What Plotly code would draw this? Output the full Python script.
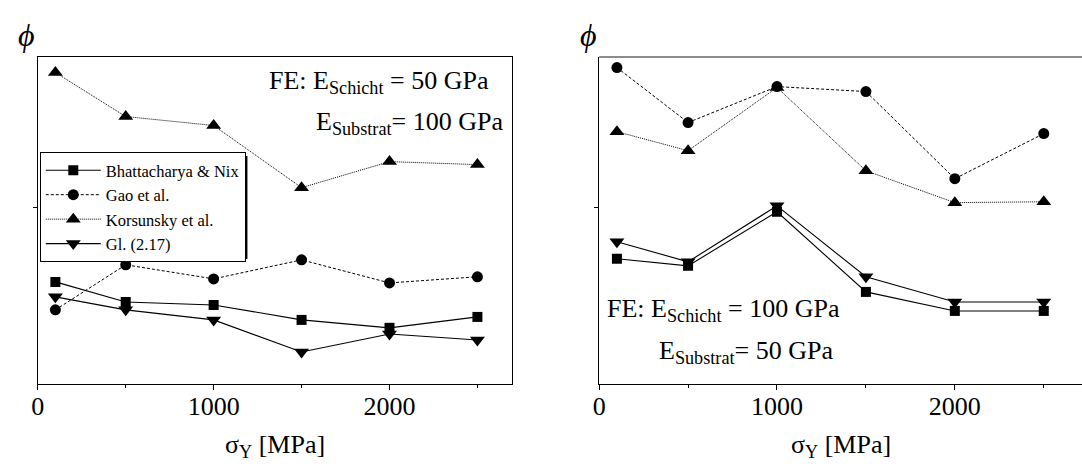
import plotly.graph_objects as go

# Fließspannung sigma_Y [MPa]
sigma_y = [100, 500, 1000, 1500, 2000, 2500]

# Links: E_Schicht = 50 GPa, E_Substrat = 100 GPa
bn_left = [0.580, 0.466, 0.449, 0.364, 0.319, 0.381]
gao_left = [0.421, 0.677, 0.597, 0.705, 0.574, 0.609]
kors_left = [1.769, 1.519, 1.468, 1.115, 1.263, 1.246]
gl_left = [0.495, 0.421, 0.364, 0.182, 0.284, 0.250]

# Rechts: E_Schicht = 100 GPa, E_Substrat = 50 GPa
bn_right = [0.711, 0.671, 0.978, 0.523, 0.415, 0.415]
gao_right = [1.797, 1.485, 1.689, 1.661, 1.166, 1.422]
kors_right = [1.433, 1.325, 1.684, 1.211, 1.030, 1.035]
gl_right = [0.808, 0.694, 1.012, 0.609, 0.466, 0.466]

series_names = ["Bhattacharya & Nix", "Gao et al.", "Korsunsky et al.", "Gl. (2.17)"]
x_ticks = [0, 1000, 2000]
y_ticks = [1]

W, H = 1082, 468
SERIF = "'Liberation Serif', 'DejaVu Serif', 'Times New Roman', serif"


def px(x):
    return x / W


def py(y):
    return 1 - y / H


styles = [
    dict(symbol="square", size=10, dash="solid", width=1.1),
    dict(symbol="circle", size=11, dash="3px,2px", width=1.0),
    dict(symbol="triangle-up", size=13, dash="1px,1px", width=1.0),
    dict(symbol="triangle-down", size=13, dash="solid", width=1.1),
]

fig = go.Figure()

left = [bn_left, gao_left, kors_left, gl_left]
right = [bn_right, gao_right, kors_right, gl_right]

for name, vals, st in zip(series_names, left, styles):
    fig.add_trace(go.Scatter(
        x=sigma_y, y=vals, name=name, mode="lines+markers",
        line=dict(color="black", width=st["width"], dash=st["dash"]),
        marker=dict(symbol=st["symbol"], size=st["size"], color="black",
                    line=dict(width=0)),
        xaxis="x", yaxis="y", legendgroup=name, showlegend=True,
    ))

for name, vals, st in zip(series_names, right, styles):
    fig.add_trace(go.Scatter(
        x=sigma_y, y=vals, name=name, mode="lines+markers",
        line=dict(color="black", width=st["width"], dash=st["dash"]),
        marker=dict(symbol=st["symbol"], size=st["size"], color="black",
                    line=dict(width=0)),
        xaxis="x2", yaxis="y2", legendgroup=name, showlegend=False,
    ))

y_dom = [py(384), py(56.5)]

common_x = dict(
    tickmode="array", tickvals=x_ticks, ticktext=[str(v) for v in x_ticks],
    ticks="outside", ticklen=5, tickwidth=1, tickcolor="black",
    ticklabelstandoff=-6,
    showline=True, linecolor="black", linewidth=1.3,
    showgrid=False, zeroline=False,
    tickfont=dict(family=SERIF, size=26, color="black"),
    minor=dict(tickmode="array", tickvals=[500, 1500, 2500], ticks="outside",
               ticklen=3, tickwidth=1, tickcolor="black", showgrid=False),
)
common_y = dict(
    range=[0, 1.86], tickmode="array", tickvals=y_ticks,
    ticks="outside", ticklen=4, tickwidth=1, tickcolor="black",
    showticklabels=False, showline=True, linecolor="black", linewidth=1.3,
    showgrid=False, zeroline=False,
)

fig.update_layout(
    width=W, height=H,
    margin=dict(l=0, r=0, t=0, b=0),
    paper_bgcolor="white", plot_bgcolor="white",
    font=dict(family=SERIF, color="black"),
    xaxis=dict(domain=[px(31), px(508)], range=[0, 2695], mirror=True,
               anchor="y", **common_x),
    yaxis=dict(domain=y_dom, mirror=True, anchor="x", **common_y),
    xaxis2=dict(domain=[px(596), 1], range=[0, 2715], mirror=False,
                anchor="y2", **common_x),
    yaxis2=dict(domain=y_dom, mirror=False, anchor="x2", **common_y),
    legend=dict(
        x=px(33), y=py(152), xanchor="left", yanchor="top",
        bgcolor="white", bordercolor="black", borderwidth=1,
        font=dict(family=SERIF, size=16.5, color="black"),
        tracegroupgap=0, itemwidth=55,
    ),
    showlegend=True,
)

# Rahmen oben im rechten Diagramm
fig.add_shape(type="line", xref="paper", yref="paper",
              x0=px(596), x1=1, y0=py(57), y1=py(57),
              line=dict(color="#666666", width=1.3))

# Schatten hinter der Legende
fig.add_shape(type="rect", xref="paper", yref="paper",
              x0=px(37), x1=px(242), y0=py(259), y1=py(156),
              fillcolor="black", line=dict(width=0), layer="above")

ann_font = dict(family=SERIF, size=26, color="black")
annotations = [
    dict(x=px(20), y=py(35), text="<i>ϕ</i>", font=dict(family=SERIF, size=32, color="black")),
    dict(x=px(585), y=py(35), text="<i>ϕ</i>", font=dict(family=SERIF, size=32, color="black")),
    dict(x=px(262), y=py(82), text="FE: E<sub>Schicht</sub> = 50 GPa", xanchor="left", font=ann_font),
    dict(x=px(309), y=py(123), text="E<sub>Substrat</sub>= 100 GPa", xanchor="left", font=ann_font),
    dict(x=px(602), y=py(310), text="FE: E<sub>Schicht</sub> = 100 GPa", xanchor="left", font=ann_font),
    dict(x=px(654), y=py(352), text="E<sub>Substrat</sub>= 50 GPa", xanchor="left", font=ann_font),
    dict(x=px(270), y=py(446), text="σ<sub>Y</sub> [MPa]", font=ann_font),
    dict(x=px(839), y=py(446), text="σ<sub>Y</sub> [MPa]", font=ann_font),
]
for a in annotations:
    a.setdefault("xanchor", "center")
    fig.add_annotation(xref="paper", yref="paper", yanchor="middle",
                       showarrow=False, **a)

fig.write_html("out.html")
